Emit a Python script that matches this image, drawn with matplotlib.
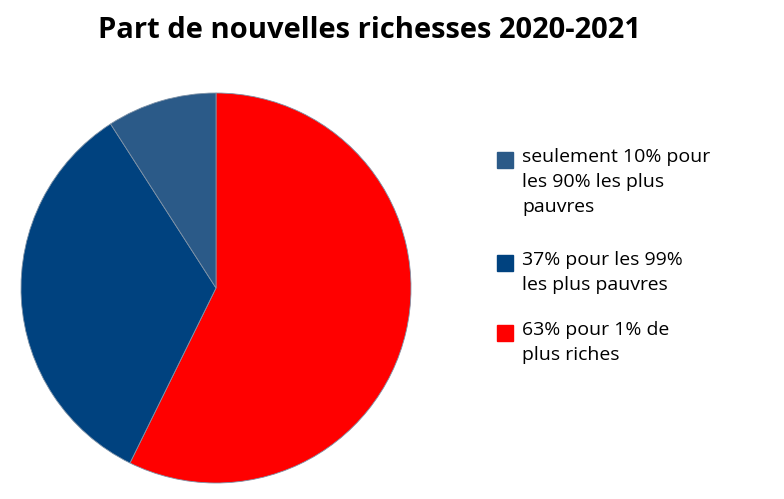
import matplotlib
matplotlib.use("Agg")
import matplotlib.pyplot as plt
from matplotlib.patches import Rectangle

# Slices drawn clockwise from 12 o'clock
values = [63, 37, 10]
colors = ["#ff0000", "#00427f", "#2b5a88"]
labels = ["63% pour 1% de\nplus riches",
          "37% pour les 99%\nles plus pauvres",
          "seulement 10% pour\nles 90% les plus\npauvres"]
title = "Part de nouvelles richesses 2020-2021"

W, H = 784, 499
plt.rcParams["font.family"] = "Open Sans"
fig = plt.figure(figsize=(W / 100, H / 100), dpi=100)
ax = fig.add_axes([21 / W, 16 / H, 390 / W, 390 / H])
ax.pie(values, colors=colors, startangle=90, counterclock=False,
       wedgeprops={"linewidth": 0.6, "edgecolor": "#7f93a8"})
ax.set_xlim(-1.0, 1.0)
ax.set_ylim(-1.0, 1.0)
ax.set_aspect("equal")

fig.text(370 / W, 1 - 30 / H, title, ha="center", va="center",
         fontsize=21, fontweight="bold")

# legend, top entry first (reverse of drawing order)
order = [2, 1, 0]
first_line_y = [160, 263, 333]
for i, y in zip(order, first_line_y):
    fig.patches.append(Rectangle((497 / W, 1 - (y + 8) / H), 16 / W, 16 / H,
                                 transform=fig.transFigure,
                                 color=colors[i]))
    fig.text(522 / W, 1 - (y - 12) / H, labels[i], ha="left", va="top",
             fontsize=14, linespacing=1.5)

fig.savefig("out.png", dpi=100)
